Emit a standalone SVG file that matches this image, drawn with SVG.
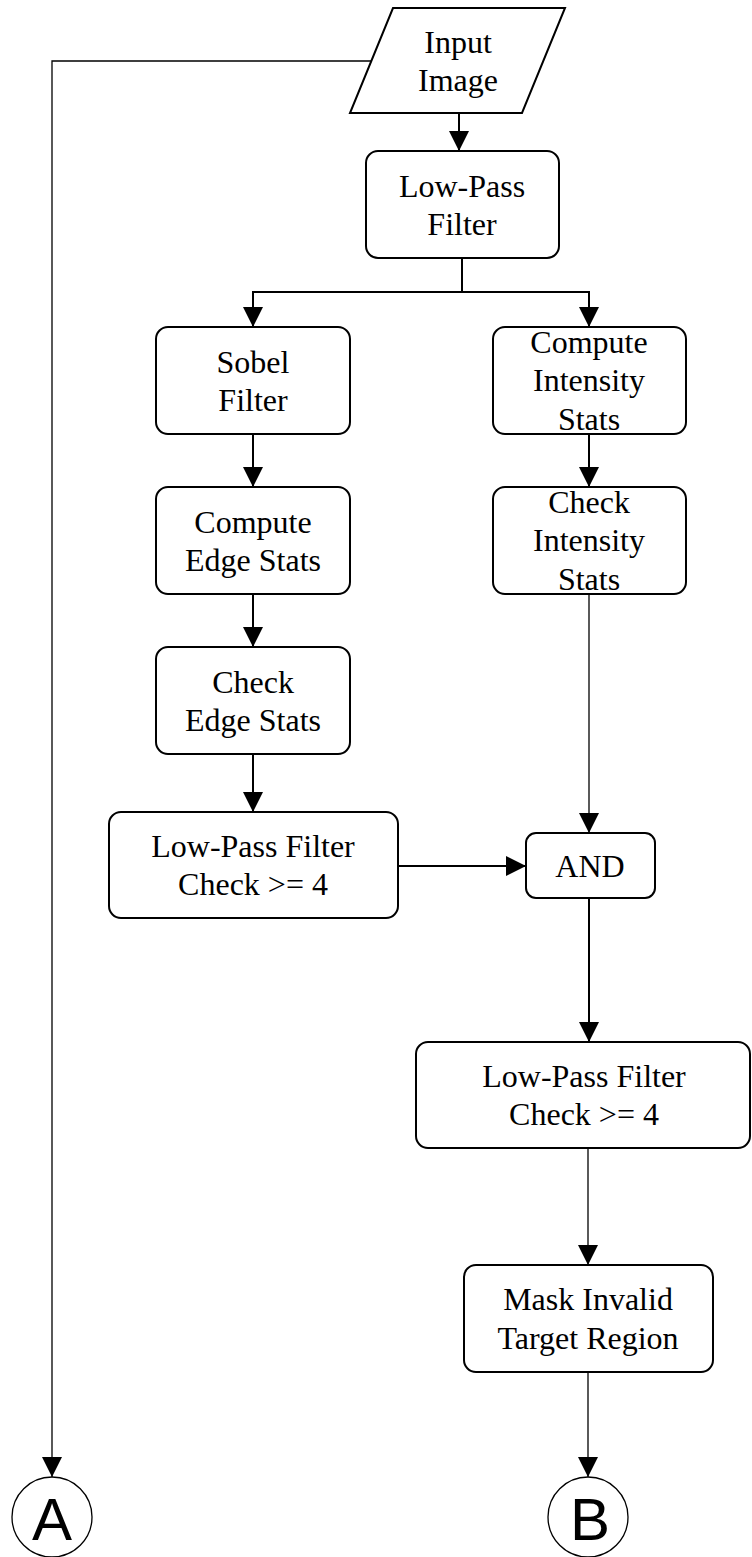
<svg xmlns="http://www.w3.org/2000/svg" width="752" height="1557" viewBox="0 0 752 1557">
<defs>
<style>
.box{fill:#fff;stroke:#000;stroke-width:2}
.t{font-family:"Liberation Serif","Times New Roman",serif;font-size:32px;fill:#000;text-anchor:middle}
.c{font-family:"Liberation Sans",Arial,sans-serif;font-size:60px;fill:#000;text-anchor:middle}
.ln{fill:none;stroke:#000;stroke-width:2}
.thin{fill:none;stroke:#000;stroke-width:1.3}
</style>
<marker id="ah" markerUnits="userSpaceOnUse" markerWidth="20" markerHeight="20" refX="20" refY="10" orient="auto" viewBox="0 0 20 20">
<path d="M0,0 L20,10 L0,20 z" fill="#000"/>
</marker>
</defs>
<rect width="752" height="1557" fill="#fff"/>
<g id="connectors">
<path class="thin" d="M371,61 H52 V1477" marker-end="url(#ah)"/>
<path class="ln" d="M459,113 V151" marker-end="url(#ah)"/>
<path class="ln" d="M462,258 V292 H253 V327" marker-end="url(#ah)"/>
<path class="ln" d="M462,292 H589 V327" marker-end="url(#ah)"/>
<path class="ln" d="M253,434 V487" marker-end="url(#ah)"/>
<path class="ln" d="M589,434 V487" marker-end="url(#ah)"/>
<path class="ln" d="M253,594 V647" marker-end="url(#ah)"/>
<path class="ln" d="M253,754 V812" marker-end="url(#ah)"/>
<path class="thin" d="M589,594 V833" marker-end="url(#ah)"/>
<path class="ln" d="M398,866 H526" marker-end="url(#ah)"/>
<path class="ln" d="M589,898 V1042" marker-end="url(#ah)"/>
<path class="thin" d="M588,1148 V1265" marker-end="url(#ah)"/>
<path class="thin" d="M588,1372 V1477" marker-end="url(#ah)"/>
</g>
<g id="input">
<polygon class="box" points="393,8 565,8 522,113 350,113"/>
<text class="t" x="458" y="53">Input</text>
<text class="t" x="458" y="91">Image</text>
</g>
<g id="lpf">
<rect class="box" x="366" y="151" width="193" height="107" rx="12"/>
<text class="t" x="462" y="197">Low-Pass</text>
<text class="t" x="462" y="235">Filter</text>
</g>
<g id="sobel">
<rect class="box" x="156" y="327" width="194" height="107" rx="12"/>
<text class="t" x="253" y="373">Sobel</text>
<text class="t" x="253" y="411">Filter</text>
</g>
<g id="computeIntensity">
<rect class="box" x="493" y="327" width="193" height="107" rx="12"/>
<text class="t" x="589" y="353">Compute</text>
<text class="t" x="589" y="391">Intensity</text>
<text class="t" x="589" y="430">Stats</text>
</g>
<g id="computeEdge">
<rect class="box" x="156" y="487" width="194" height="107" rx="12"/>
<text class="t" x="253" y="533">Compute</text>
<text class="t" x="253" y="571">Edge Stats</text>
</g>
<g id="checkIntensity">
<rect class="box" x="493" y="487" width="193" height="107" rx="12"/>
<text class="t" x="589" y="513">Check</text>
<text class="t" x="589" y="551">Intensity</text>
<text class="t" x="589" y="590">Stats</text>
</g>
<g id="checkEdge">
<rect class="box" x="156" y="647" width="194" height="107" rx="12"/>
<text class="t" x="253" y="693">Check</text>
<text class="t" x="253" y="731">Edge Stats</text>
</g>
<g id="lpfCheck1">
<rect class="box" x="109" y="812" width="289" height="106" rx="12"/>
<text class="t" x="253" y="857">Low-Pass Filter</text>
<text class="t" x="253" y="895">Check &gt;= 4</text>
</g>
<g id="and">
<rect class="box" x="526" y="833" width="129" height="65" rx="10"/>
<text class="t" x="590" y="877">AND</text>
</g>
<g id="lpfCheck2">
<rect class="box" x="416" y="1042" width="334" height="106" rx="12"/>
<text class="t" x="584" y="1087">Low-Pass Filter</text>
<text class="t" x="584" y="1125">Check &gt;= 4</text>
</g>
<g id="mask">
<rect class="box" x="464" y="1265" width="249" height="107" rx="12"/>
<text class="t" x="588" y="1310">Mask Invalid</text>
<text class="t" x="588" y="1349">Target Region</text>
</g>
<g id="A">
<circle cx="52" cy="1517" r="40" fill="#fff" stroke="#000" stroke-width="1.3"/>
<text class="c" x="52" y="1540">A</text>
</g>
<g id="B">
<circle cx="588" cy="1517" r="40" fill="#fff" stroke="#000" stroke-width="1.3"/>
<text class="c" x="590" y="1540">B</text>
</g>
</svg>
